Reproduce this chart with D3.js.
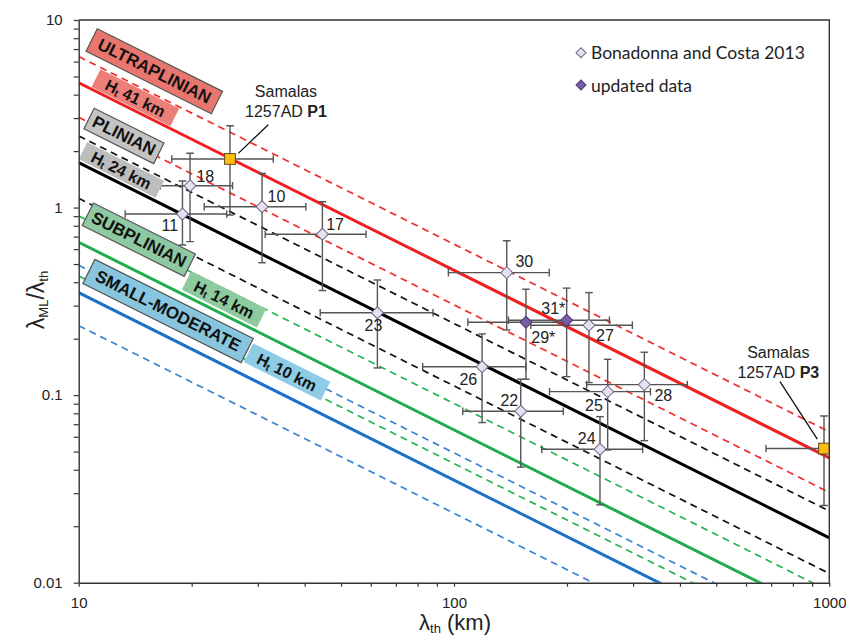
<!DOCTYPE html>
<html>
<head>
<meta charset="utf-8">
<script src="https://cdn.jsdelivr.net/npm/d3@7"></script>
<style>
  body { margin: 0; background: #ffffff; }
  svg { display: block; font-family: "Liberation Sans", Arial, sans-serif; }
</style>
</head>
<body>
<svg id="chart" width="846" height="638"></svg>
<script>
// ---- axis ticks ----
const xMajorTicks = [10, 100, 1000];
const yMajorTicks = [0.01, 0.1, 1, 10];
const yTickLabels = ["0.01", "0.1", "1", "10"];

// ---- eruption-regime reference lines (constant λML, km) ----
const regimeKeys   = ["ultraplinian", "plinian", "subplinian", "small"];
const regimeColors = ["#f01e1e", "#000000", "#1fae48", "#1f6fc8"];
const dashColors   = ["#f52a2a", "#111111", "#27b44f", "#3a82d2"];
const lambdaMLmid  = [46.3, 17.35, 6.53, 3.52];
const lambdaMLhigh = [63.8, 24.1, 9.02, 4.92];
const lambdaMLlow  = [30.3, 11.2, 4.32, 2.347];

// ---- Bonadonna and Costa 2013 eruptions ----
const bcIds   = ["10", "11", "17", "18", "22", "23", "24", "25", "26", "27", "28", "30"];
const bcLth   = [30.8, 18.9, 44.6, 19.8, 150.6, 62.5, 244.9, 256.7, 118.8, 228.9, 321.5, 138.2];
const bcLthLo = [21.6, 13.3, 31.4, 16.5, 105.5, 44.0, 171.3, 179.7, 82.5, 160.2, 225.7, 96.6];
const bcLthHi = [40.3, 24.8, 58.3, 25.7, 195.5, 87.9, 318.3, 333.7, 155.5, 298.7, 418.5, 179.4];
const bcRatio   = [1.01, 0.924, 0.721, 1.308, 0.0821, 0.275, 0.0515, 0.1044, 0.1418, 0.2358, 0.1138, 0.4498];
const bcRatioLo = [0.508, 0.632, 0.361, 0.658, 0.0413, 0.1396, 0.026, 0.051, 0.0714, 0.1166, 0.0572, 0.2226];
const bcRatioHi = [1.52, 1.386, 1.075, 1.947, 0.1216, 0.411, 0.0768, 0.1553, 0.212, 0.352, 0.1693, 0.666];

// ---- updated data ----
const upIds   = ["29*", "31*"];
const upLth   = [155.5, 199.6];
const upLthLo = [108.9, 139.7];
const upLthHi = [202.0, 259.5];
const upRatio   = [0.2446, 0.2507];
const upRatioLo = [0.1216, 0.1255];
const upRatioHi = [0.367, 0.372];

// ---- Samalas 1257AD phases ----
const samIds   = ["P1", "P3"];
const samLth   = [25.3, 968];
const samLthLo = [17.7, 678];
const samLthHi = [33.0, 1258];
const samRatio   = [1.816, 0.0519];
const samRatioLo = [0.913, 0.0258];
const samRatioHi = [2.73, 0.0774];

// ---- regime labels ----
const boxTexts = ["ULTRAPLINIAN", "H|41 km", "PLINIAN", "H|24 km", "SUBPLINIAN", "H|14 km", "SMALL-MODERATE", "H|10 km"];
const boxLth   = [15.9, 14.16, 13.2, 13.0, 14.46, 24.4, 17.3, 35.9];
const boxRatio = [5.33, 3.85, 2.41, 1.586, 0.674, 0.3245, 0.281, 0.133];

// ---- layout / styling ----
const boxStyle = [
  { w: 140, h: 25, fill: "#e8766f", border: true },
  { w: 88,  h: 20, fill: "#ec7f78", border: false },
  { w: 78,  h: 23, fill: "#c3c3c3", border: true },
  { w: 86,  h: 19, fill: "#bdbdbd", border: false },
  { w: 114, h: 25, fill: "#8ec9a1", border: true },
  { w: 84,  h: 21, fill: "#8dcb9f", border: false },
  { w: 177, h: 27, fill: "#88c6e0", border: true },
  { w: 86,  h: 21, fill: "#8dcbe6", border: false }
];
const bcLabelOffset = {
  "10": [14.4, -10], "11": [-12.7, 11], "17": [12.7, -9.3], "18": [15.3, -9],
  "22": [-11.4, -10.6], "23": [-4, 12.3], "24": [-13.3, -11], "25": [-13.7, 14.3],
  "26": [-13.7, 12.6], "27": [16, 10.7], "28": [19, 11.3], "30": [17.6, -11]
};
const upLabelOffset = { "29*": [17.3, 15], "31*": [-13.4, -12] };
const samLabelLayout = {
  P1: { text: [56, -67.3], lead: [[38.3, -34.3], [8.3, -5.6]] },
  P3: { text: [-45.7, -96], lead: [[-44, -67], [-6.7, -9.4]] }
};

const W = 846, H = 638;
const plot = { left: 78.7, right: 829.3, top: 20, bottom: 582.7 };

const svg = d3.select("#chart");
svg.append("rect").attr("width", W).attr("height", H).attr("fill", "#ffffff");

const x = d3.scaleLog().domain([10, 1000]).range([plot.left, plot.right]);
const y = d3.scaleLog().domain([0.01, 10]).range([plot.bottom, plot.top]);

svg.append("defs").append("clipPath").attr("id", "plotClip")
  .append("rect")
  .attr("x", plot.left).attr("y", plot.top)
  .attr("width", plot.right - plot.left).attr("height", plot.bottom - plot.top);

const inner = svg.append("g").attr("clip-path", "url(#plotClip)");

// regime lines: λML/λth = λML / λth
function regimeLine(lml) {
  const pts = [10, 1000].map(l => [x(l), y(lml / l)]);
  return d3.line()(pts);
}
regimeKeys.forEach((k, i) => {
  inner.append("path").attr("d", regimeLine(lambdaMLhigh[i]))
    .attr("stroke", dashColors[i]).attr("stroke-width", 1.7).attr("fill", "none")
    .attr("stroke-dasharray", "7,5");
  inner.append("path").attr("d", regimeLine(lambdaMLlow[i]))
    .attr("stroke", dashColors[i]).attr("stroke-width", 1.7).attr("fill", "none")
    .attr("stroke-dasharray", "7,5");
  inner.append("path").attr("d", regimeLine(lambdaMLmid[i]))
    .attr("stroke", regimeColors[i]).attr("stroke-width", 3).attr("fill", "none");
});

// regime label boxes, aligned with the lines
const angle = Math.atan2(y(0.1) - y(1), x(100) - x(10)) * 180 / Math.PI;
boxTexts.forEach((t, i) => {
  const s = boxStyle[i];
  const g = svg.append("g")
    .attr("transform", `translate(${x(boxLth[i])},${y(boxRatio[i])}) rotate(${angle})`);
  g.append("rect")
    .attr("x", -s.w / 2).attr("y", -s.h / 2).attr("width", s.w).attr("height", s.h)
    .attr("fill", s.fill)
    .attr("stroke", s.border ? "#555555" : "none").attr("stroke-width", 1.2);
  const txt = g.append("text")
    .attr("text-anchor", "middle").attr("dominant-baseline", "central")
    .attr("font-weight", "bold").attr("fill", "#111");
  if (t.includes("|")) {
    const [a, b] = t.split("|");
    txt.attr("font-size", 16);
    txt.append("tspan").text(a);
    txt.append("tspan").attr("font-size", 10).attr("dy", 4).text("t");
    txt.append("tspan").attr("dy", -4).text(" " + b);
  } else {
    txt.attr("font-size", 17).text(t);
  }
});

// error bars
function errorBars(lth, lo, hi, r, rlo, rhi) {
  const cap = 3.8;
  lth.forEach((l, i) => {
    const cx = x(l), cy = y(r[i]);
    const g = inner.append("g").attr("stroke", "#555555").attr("stroke-width", 1.4);
    g.append("line").attr("x1", x(lo[i])).attr("x2", x(hi[i])).attr("y1", cy).attr("y2", cy);
    g.append("line").attr("x1", x(lo[i])).attr("x2", x(lo[i])).attr("y1", cy - cap).attr("y2", cy + cap);
    g.append("line").attr("x1", x(hi[i])).attr("x2", x(hi[i])).attr("y1", cy - cap).attr("y2", cy + cap);
    g.append("line").attr("x1", cx).attr("x2", cx).attr("y1", y(rlo[i])).attr("y2", y(rhi[i]));
    g.append("line").attr("x1", cx - cap).attr("x2", cx + cap).attr("y1", y(rlo[i])).attr("y2", y(rlo[i]));
    g.append("line").attr("x1", cx - cap).attr("x2", cx + cap).attr("y1", y(rhi[i])).attr("y2", y(rhi[i]));
  });
}
errorBars(bcLth, bcLthLo, bcLthHi, bcRatio, bcRatioLo, bcRatioHi);
errorBars(upLth, upLthLo, upLthHi, upRatio, upRatioLo, upRatioHi);
errorBars(samLth, samLthLo, samLthHi, samRatio, samRatioLo, samRatioHi);

// markers
const diamond = d3.symbol().type(d3.symbolSquare).size(72);
function diamonds(lth, r, fill, stroke) {
  lth.forEach((l, i) => {
    svg.append("path").attr("d", diamond())
      .attr("transform", `translate(${x(l)},${y(r[i])}) rotate(45)`)
      .attr("fill", fill).attr("stroke", stroke).attr("stroke-width", 1);
  });
}
diamonds(bcLth, bcRatio, "#e6e1f0", "#6e6784");
diamonds(upLth, upRatio, "#7a5ca8", "#4d3b72");

samLth.forEach((l, i) => {
  const cx = x(l), cy = y(samRatio[i]);
  svg.append("rect").attr("x", cx - 5.4).attr("y", cy - 5.4).attr("width", 10.8).attr("height", 10.8)
    .attr("fill", "#fdbb10").attr("stroke", "#5e4d1c").attr("stroke-width", 1);
});

// point labels
function pointLabels(ids, lth, r, offsets) {
  ids.forEach((id, i) => {
    const [dx, dy] = offsets[id];
    svg.append("text")
      .attr("x", x(lth[i]) + dx).attr("y", y(r[i]) + dy)
      .attr("text-anchor", "middle").attr("dominant-baseline", "central")
      .attr("font-size", 16).attr("fill", "#222").text(id);
  });
}
pointLabels(bcIds, bcLth, bcRatio, bcLabelOffset);
pointLabels(upIds, upLth, upRatio, upLabelOffset);

// Samalas annotations
samIds.forEach((id, i) => {
  const cx = x(samLth[i]), cy = y(samRatio[i]);
  const lay = samLabelLayout[id];
  svg.append("line")
    .attr("x1", cx + lay.lead[0][0]).attr("y1", cy + lay.lead[0][1])
    .attr("x2", cx + lay.lead[1][0]).attr("y2", cy + lay.lead[1][1])
    .attr("stroke", "#111").attr("stroke-width", 1.3);
  const tx = cx + lay.text[0], ty = cy + lay.text[1];
  svg.append("text").attr("x", tx).attr("y", ty)
    .attr("text-anchor", "middle").attr("dominant-baseline", "central")
    .attr("font-size", 16).attr("fill", "#222").text("Samalas");
  const t2 = svg.append("text").attr("x", tx).attr("y", ty + 19.5)
    .attr("text-anchor", "middle").attr("dominant-baseline", "central")
    .attr("font-size", 16).attr("fill", "#222");
  t2.append("tspan").text("1257AD ");
  t2.append("tspan").attr("font-weight", "bold").text(id);
});

// axes
const xAllTicks = [];
[10, 100].forEach(d => { for (let k = 1; k <= 9; k++) xAllTicks.push(d * k); });
xAllTicks.push(1000);
const yAllTicks = [];
[0.01, 0.1, 1].forEach(d => { for (let k = 1; k <= 9; k++) yAllTicks.push(+(d * k).toPrecision(3)); });
yAllTicks.push(10);

const xAxis = d3.axisBottom(x).tickValues(xAllTicks).tickSize(4).tickSizeOuter(0).tickPadding(11)
  .tickFormat(d => xMajorTicks.includes(d) ? String(d) : "");
const yAxis = d3.axisLeft(y).tickValues(yAllTicks).tickSize(5).tickSizeOuter(0).tickPadding(11)
  .tickFormat(d => {
    const j = yMajorTicks.findIndex(v => Math.abs(v - d) < 1e-9);
    return j >= 0 ? yTickLabels[j] : "";
  });

const gx = svg.append("g").attr("transform", `translate(0,${plot.bottom})`).call(xAxis);
const gy = svg.append("g").attr("transform", `translate(${plot.left},0)`).call(yAxis);
[gx, gy].forEach(g => {
  g.select(".domain").attr("stroke", "#333").attr("stroke-width", 1.4);
  g.selectAll(".tick line").attr("stroke", "#333").attr("stroke-width", 1.2);
  g.selectAll(".tick text").attr("font-size", 15).attr("fill", "#222")
    .attr("font-family", "'Liberation Sans', Arial, sans-serif");
});

// top and right frame
svg.append("path")
  .attr("d", `M${plot.left},${plot.top}H${plot.right}V${plot.bottom}`)
  .attr("fill", "none").attr("stroke", "#333").attr("stroke-width", 1.4);

// axis titles
const xt = svg.append("text").attr("x", 455).attr("y", 630)
  .attr("text-anchor", "middle").attr("font-size", 22).attr("fill", "#222");
xt.append("tspan").text("λ");
xt.append("tspan").attr("font-size", 13).attr("dy", 3).text("th");
xt.append("tspan").attr("dy", -3).text(" (km)");

const yt = svg.append("text").attr("transform", "translate(44,300) rotate(-90)")
  .attr("text-anchor", "middle").attr("font-size", 23).attr("fill", "#222");
yt.append("tspan").text("λ");
yt.append("tspan").attr("font-size", 13).attr("dy", 4).text("ML");
yt.append("tspan").attr("dy", -4).text("/λ");
yt.append("tspan").attr("font-size", 13).attr("dy", 4).text("th");

// legend
const legendItems = ["Bonadonna and Costa 2013", "updated data"];
const legendFill = ["#e6e1f0", "#7a5ca8"];
const legendStroke = ["#6e6784", "#4d3b72"];
legendItems.forEach((t, i) => {
  const ly = 52.7 + i * 32.3;
  svg.append("path").attr("d", d3.symbol().type(d3.symbolSquare).size(50)())
    .attr("transform", `translate(581,${ly}) rotate(45)`)
    .attr("fill", legendFill[i]).attr("stroke", legendStroke[i]).attr("stroke-width", 1);
  svg.append("text").attr("x", 591).attr("y", ly)
    .attr("dominant-baseline", "central").attr("font-family", "Lato, 'Open Sans', sans-serif")
    .attr("font-size", 17.5).attr("fill", "#222").text(t);
});
</script>
</body>
</html>
